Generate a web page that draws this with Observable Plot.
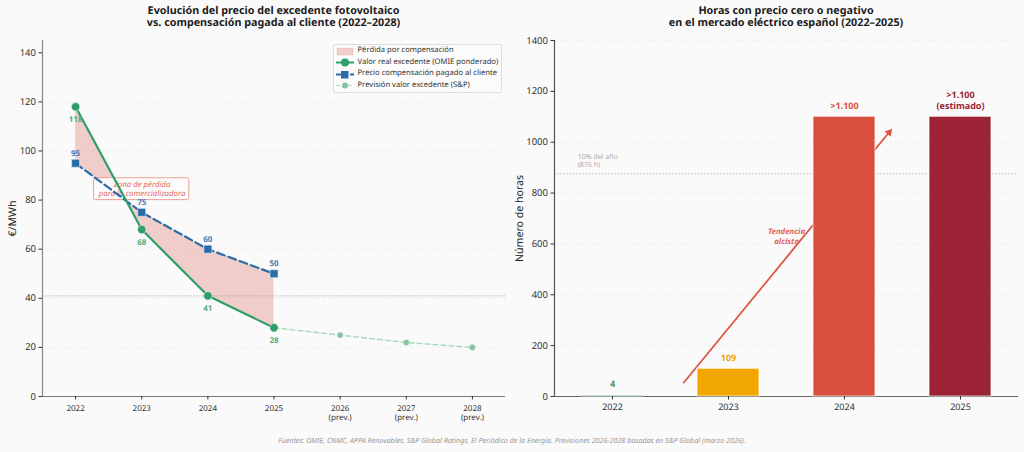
<!DOCTYPE html>
<html lang="es"><head><meta charset="utf-8">
<script src="https://cdn.jsdelivr.net/npm/d3@7"></script>
<script src="https://cdn.jsdelivr.net/npm/@observablehq/plot@0.6"></script>
<style>
html,body{margin:0;padding:0;background:#fafafa;width:1024px;height:452px;overflow:hidden;font-family:"Noto Sans",sans-serif;text-rendering:geometricPrecision}
#fig{position:relative;width:1024px;height:452px}
#fig svg{position:absolute;top:0;background:transparent;overflow:visible;text-rendering:geometricPrecision}
.title{position:absolute;top:4.5px;text-align:center;font-weight:700;font-size:10.75px;line-height:12.5px;color:#1a1a1a;white-space:nowrap}
.cap{position:absolute;left:0;width:1024px;top:435px;text-align:center;font-style:italic;font-size:7.13px;line-height:12px;color:#999}
#legend{position:absolute;left:333px;top:43.5px;width:167px;height:47.5px;border:1px solid #ddd;border-radius:2px;background:#fcfcfc;font-size:7.65px;color:#333;box-sizing:content-box}
#legend div{position:absolute;left:23.5px;white-space:nowrap;line-height:11px}
#legend svg{position:absolute;left:2px;width:18px;height:11px;overflow:visible}
</style></head><body>
<div id="fig"></div>
<script>
const priceYears = [2022, 2023, 2024, 2025];
const realValue = [118, 68, 41, 28];
const compensation = [95, 75, 60, 50];
const forecastYears = [2025, 2026, 2027, 2028];
const forecastValue = [28, 25, 22, 20];
const allYears = [2022, 2023, 2024, 2025, 2026, 2027, 2028];
const priceTicks = [0, 20, 40, 60, 80, 100, 120, 140];
const priceThreshold = [41];

const hourYears = [2022, 2023, 2024, 2025];
const hourValues = [4, 109, 1100, 1100];
const hourLabels = ["4", "109", ">1.100", ">1.100\n(estimado)"];
const hourColors = ["#3aa06f", "#f2a600", "#d94f3d", "#9b2335"];
const hourTicks = [0, 200, 400, 600, 800, 1000, 1200, 1400];
const yearHours = [876];
const trend = [{x1: 2022.61, y1: 52, x2: 2024.385, y2: 1039}];

const GREEN = "#2f9e6a", BLUE = "#2b6ca8", RED = "#dd5544", FONT = "Noto Sans";
const priceRows = priceYears.map((year, i) => ({year, real: realValue[i], comp: compensation[i]}));
const forecastRows = forecastYears.map((year, i) => ({year, value: forecastValue[i]}));
const hourRows = hourYears.map((year, i) => ({year, value: hourValues[i], label: hourLabels[i], color: hourColors[i]}));

const left = Plot.plot({
  width: 512, height: 452, marginLeft: 42, marginRight: 7, marginTop: 40, marginBottom: 56,
  style: {fontFamily: FONT, background: "transparent"},
  x: {domain: [2021.5, 2028.5]},
  y: {domain: [0, 145]},
  marks: [
    Plot.gridY(priceTicks.slice(1), {stroke: "#ebebeb", strokeOpacity: 1, strokeDasharray: "3 2.5", strokeWidth: 0.7}),
    Plot.ruleY(priceThreshold, {stroke: "#c4c4c4", strokeDasharray: "1.4 1.4", strokeWidth: 1.2}),
    Plot.areaY(priceRows, {x: "year", y1: "real", y2: "comp", fill: "#d9483b", fillOpacity: 0.25}),
    Plot.rect([{x1: 2022.28, x2: 2023.72, y1: 80, y2: 88.9}], {x1: "x1", x2: "x2", y1: "y1", y2: "y2", fill: "#fcfcfc", fillOpacity: 0.92, stroke: "#f0a097", strokeWidth: 1, rx: 2}),
    Plot.text(["Zona de pérdida\npara la comercializadora"], {x: 2023.005, y: 84.6, text: d => d, fontSize: 7.8, fontStyle: "italic", fill: "#e8675c", lineHeight: 1.15}),
    Plot.line(forecastRows, {x: "year", y: "value", stroke: "#a6d9bf", strokeWidth: 1.4, strokeDasharray: "5 3"}),
    Plot.dot(forecastRows.slice(1), {x: "year", y: "value", r: 3.1, fill: "#82c4a2", stroke: "#e8f3ee", strokeWidth: 0.5}),
    Plot.line(priceRows, {x: "year", y: "comp", stroke: BLUE, strokeWidth: 2.2, strokeDasharray: "8 4"}),
    Plot.line(priceRows, {x: "year", y: "real", stroke: GREEN, strokeWidth: 2.2}),
    Plot.dot(priceRows, {x: "year", y: "comp", symbol: "square", r: 4.5, fill: BLUE, stroke: "#e3ecf5", strokeWidth: 0.6}),
    Plot.dot(priceRows, {x: "year", y: "real", r: 4.2, fill: GREEN, stroke: "#e3f2ea", strokeWidth: 0.6}),
    Plot.text(priceRows, {x: "year", y: "real", text: "real", dy: 13, fontSize: 8, fontWeight: 700, fill: "#4fae82"}),
    Plot.text(priceRows, {x: "year", y: "comp", text: "comp", dy: -10, fontSize: 8, fontWeight: 700, fill: "#3f7db6"}),
    Plot.ruleX([2021.5], {stroke: "#888", strokeWidth: 1.2}),
    Plot.ruleY([0], {stroke: "#777", strokeWidth: 1}),
    Plot.axisY({ticks: priceTicks, tickSize: 3.5, tickPadding: 3, fontSize: 9.5, color: "#333", label: null}),
    Plot.text(["€/MWh"], {frameAnchor: "left", textAnchor: "middle", rotate: -90, dx: -30, text: d => d, fontSize: 10.6, fill: "#222"}),
    Plot.axisX({ticks: allYears, tickSize: 3.5, tickPadding: 4, fontSize: 8, lineHeight: 1.15, color: "#333", label: null, tickFormat: d => d > 2025 ? `${d}\n(prev.)` : `${d}`})
  ]
});

const right = Plot.plot({
  width: 512, height: 452, marginLeft: 42, marginRight: 6, marginTop: 40, marginBottom: 56,
  style: {fontFamily: FONT, background: "transparent"},
  x: {domain: [2021.5, 2025.5]},
  y: {domain: [0, 1400]},
  marks: [
    Plot.gridY(hourTicks.slice(1), {stroke: "#ebebeb", strokeOpacity: 1, strokeDasharray: "3 2.5", strokeWidth: 0.7}),
    Plot.ruleY(yearHours, {stroke: "#b4b4b4", strokeDasharray: "1.4 1.8", strokeWidth: 1}),
    Plot.text(["10% del año\n(876 h)"], {x: 2021.7, y: 930, text: d => d, textAnchor: "start", fontSize: 7, fill: "#aaa", lineHeight: 1.15}),
    Plot.ruleX([2021.5], {stroke: "#555", strokeWidth: 1.2}),
    Plot.ruleY([0], {stroke: "#666", strokeWidth: 1.2}),
    Plot.link(trend, {x1: "x1", y1: "y1", x2: "x2", y2: "y2", stroke: RED, strokeWidth: 1.8}),
    Plot.dot(trend, {x: "x2", y: "y2", symbol: "triangle", r: 3, rotate: 39.4, fill: RED}),
    Plot.text(["Tendencia\nalcista"], {x: 2023.5, y: 632, text: d => d, fontSize: 7.8, fontStyle: "italic", fontWeight: 700, fill: "#e2645a", lineHeight: 1.25}),
    Plot.rectY(hourRows, {x1: d => d.year - 0.267, x2: d => d.year + 0.267, y1: 0, y2: "value", fill: "color", stroke: "#fff", strokeOpacity: 0.7, strokeWidth: 1}),
    Plot.text(hourRows, {x: "year", y: "value", text: "label", fill: "color", dy: -8, lineAnchor: "bottom", fontSize: 9, fontWeight: 700, lineHeight: 1.15}),
    Plot.axisY({ticks: hourTicks, tickSize: 3.5, tickPadding: 3, fontSize: 9.5, color: "#333", label: null, tickFormat: d => `${d}`}),
    Plot.text(["Número de horas"], {frameAnchor: "left", textAnchor: "middle", rotate: -90, dx: -35, text: d => d, fontSize: 10.6, fill: "#222"}),
    Plot.axisX({ticks: hourYears, tickSize: 3.5, tickPadding: 4, fontSize: 9, color: "#333", label: null, tickFormat: d => `${d}`})
  ]
});

const fig = document.getElementById("fig");
left.style.left = "0px";
right.style.left = "512px";
fig.append(left, right);

fig.insertAdjacentHTML("beforeend", `
<div class="title" style="left:0;width:547px">Evolución del precio del excedente fotovoltaico<br>vs. compensación pagada al cliente (2022–2028)</div>
<div class="title" style="left:512px;width:548px">Horas con precio cero o negativo<br>en el mercado eléctrico español (2022–2025)</div>
<div id="legend">
  <svg style="top:1px" viewBox="0 0 18 11"><rect x="1" y="2" width="16" height="7" fill="#d9483b" fill-opacity=".25" stroke="#d9483b" stroke-opacity=".15"/></svg><div style="top:0.5px">Pérdida por compensación</div>
  <svg style="top:12.5px" viewBox="0 0 18 11"><line x1="0" x2="18" y1="5.5" y2="5.5" stroke="${GREEN}" stroke-width="2"/><circle cx="9" cy="5.5" r="4" fill="${GREEN}"/></svg><div style="top:12px">Valor real excedente (OMIE ponderado)</div>
  <svg style="top:24px" viewBox="0 0 18 11"><line x1="0" x2="18" y1="5.5" y2="5.5" stroke="${BLUE}" stroke-width="2" stroke-dasharray="5 2"/><rect x="5" y="2" width="7.5" height="7.5" fill="${BLUE}"/></svg><div style="top:23.5px">Precio compensación pagado al cliente</div>
  <svg style="top:35.5px" viewBox="0 0 18 11"><line x1="0" x2="18" y1="5.5" y2="5.5" stroke="#a6d9bf" stroke-width="1.2" stroke-dasharray="4 2"/><circle cx="9" cy="5.5" r="3" fill="#82c4a2"/></svg><div style="top:35px">Previsión valor excedente (S&amp;P)</div>
</div>
<div class="cap">Fuentes: OMIE, CNMC, APPA Renovables, S&amp;P Global Ratings, El Periódico de la Energía. Previsiones 2026-2028 basadas en S&amp;P Global (marzo 2026).</div>`);
</script>
</body></html>
